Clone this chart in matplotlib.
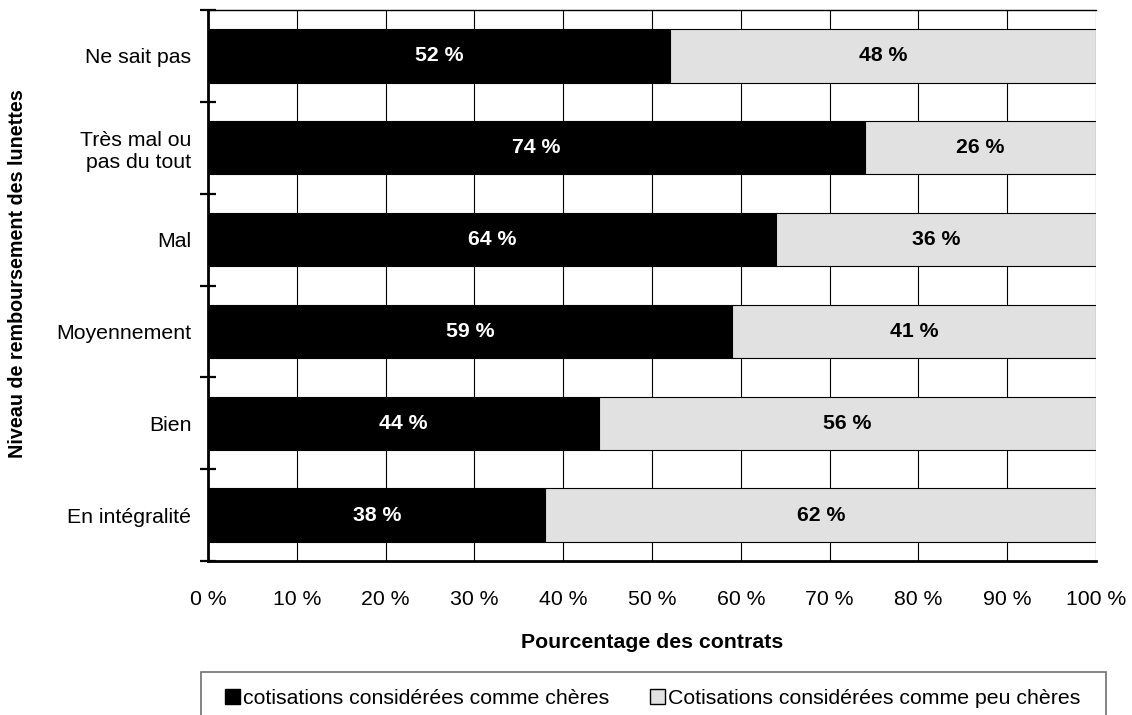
import matplotlib
matplotlib.use("Agg")
import matplotlib.pyplot as plt
from matplotlib.patches import Patch, Rectangle
import numpy as np

plt.rcParams['font.family'] = ['Liberation Sans', 'DejaVu Sans']

categories = ["En intégralité", "Bien", "Moyennement", "Mal",
              "Très mal ou\npas du tout", "Ne sait pas"]
expensive = [38, 44, 59, 64, 74, 52]
cheap = [62, 56, 41, 36, 26, 48]
series_names = ["cotisations considérées comme chères",
                "Cotisations considérées comme peu chères"]
xticks = list(range(0, 101, 10))
xtick_labels = [f"{v} %" for v in xticks]

W, H = 1132, 715
FS = 15.3
fig = plt.figure(figsize=(W / 100, H / 100), dpi=100)
ax = fig.add_axes([208 / W, 1 - 561 / H, (1096 - 208) / W, (561 - 10) / H])

y = np.arange(len(categories))
bw = 0.58
ax.barh(y, expensive, height=bw, color="black", edgecolor="black", linewidth=0.8, zorder=3)
ax.barh(y, cheap, left=expensive, height=bw, color="#e1e1e1", edgecolor="black",
        linewidth=0.8, zorder=3)

for yi, a, b in zip(y, expensive, cheap):
    ax.text(a / 2, yi, f"{a} %", color="white", fontweight="bold", fontsize=FS,
            ha="center", va="center", zorder=4)
    ax.text(a + b / 2, yi, f"{b} %", color="black", fontweight="bold", fontsize=FS,
            ha="center", va="center", zorder=4)

ax.set_xlim(0, 100)
ax.set_ylim(-0.5, len(categories) - 0.5)
ax.set_xticks(xticks)
ax.set_xticklabels(xtick_labels, fontsize=FS)
ax.set_yticks(y)
ax.set_yticklabels(categories, fontsize=FS)
ax.tick_params(axis="y", length=0, pad=12)
ax.tick_params(axis="x", length=0, pad=21)

# boundary ticks crossing the axes
ax.set_yticks(np.arange(-0.5, len(categories)), minor=True)
ax.tick_params(axis="y", which="minor", direction="inout", length=12, width=1.6)
ax.set_xticks(xticks, minor=True)
ax.tick_params(axis="x", which="minor", direction="inout", length=12, width=1.6)

ax.grid(axis="x", which="major", color="black", linewidth=0.8, zorder=0)
ax.set_axisbelow(True)
for s in ["left", "bottom"]:
    ax.spines[s].set_linewidth(2)
ax.spines["top"].set_linewidth(1.0)
ax.spines["right"].set_visible(False)

fig.text(652 / W, 1 - 643 / H, "Pourcentage des contrats", fontweight="bold",
         fontsize=FS, ha="center", va="center")
fig.text(18 / W, 1 - 274 / H, "Niveau de remboursement des lunettes", fontweight="bold",
         fontsize=14.2, ha="center", va="center", rotation=90)

handles = [Patch(facecolor="black", edgecolor="black"),
           Patch(facecolor="#e1e1e1", edgecolor="black")]
leg = fig.legend(handles, series_names, loc="center left",
                 bbox_to_anchor=(225 / W, 1 - 698 / H), ncol=2, fontsize=FS,
                 frameon=False, handlelength=0.7, handleheight=0.7,
                 handletextpad=0.15, columnspacing=1.9, borderpad=0,
                 borderaxespad=0)

# legend frame, running past the lower edge of the figure
fig.patches.append(Rectangle((201 / W, -20 / H), (1106 - 201) / W, (715 + 20 - 672) / H,
                             transform=fig.transFigure, facecolor="none",
                             edgecolor="#707070", linewidth=1.2))

fig.savefig("out.png", dpi=100)
